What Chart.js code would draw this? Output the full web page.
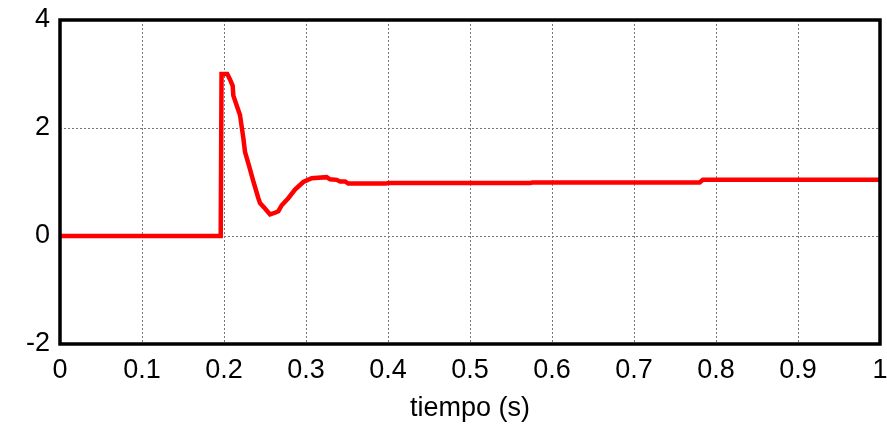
<!DOCTYPE html>
<html>
<head>
<meta charset="utf-8">
<script src="https://cdn.jsdelivr.net/npm/chart.js@4.4.0/dist/chart.umd.min.js"></script>
<style>
  html, body { margin: 0; padding: 0; background: #fff; }
  #wrap { width: 887px; height: 425px; }
</style>
</head>
<body>
<div id="wrap"><canvas id="myChart" width="887" height="425"></canvas></div>
<script>
// datos
var tiempo = [0, 0.196, 0.197, 0.204, 0.2073, 0.2106, 0.2114, 0.2154, 0.2195, 0.2236, 0.2256, 0.2309,
    0.2358, 0.2419, 0.2439, 0.2500, 0.2561, 0.2622, 0.2663, 0.2704, 0.2784, 0.2866, 0.2967, 0.3069,
    0.3252, 0.3293, 0.3374, 0.3415, 0.3476, 0.3516, 0.3964, 0.4008, 0.573, 0.576, 0.780, 0.784, 1.0];
var senal = [0, 0, 3.0, 3.0, 2.90, 2.78, 2.60, 2.42, 2.24, 1.81, 1.56, 1.28,
    1.01, 0.70, 0.61, 0.51, 0.40, 0.43, 0.46, 0.57, 0.70, 0.86, 1.00, 1.07,
    1.09, 1.05, 1.04, 1.01, 1.01, 0.97, 0.97, 0.98, 0.98, 0.99, 0.99, 1.04, 1.04];
var xTicks = [0, 0.1, 0.2, 0.3, 0.4, 0.5, 0.6, 0.7, 0.8, 0.9, 1];
var yTicks = [-2, 0, 2, 4];
var xTitle = 'tiempo (s)';

var puntos = tiempo.map(function (t, i) { return { x: t, y: senal[i] }; });

var frame = {
    id: 'frame',
    afterDraw: function (chart) {
        var a = chart.chartArea;
        var ctx = chart.ctx;
        ctx.save();
        ctx.strokeStyle = '#000';
        ctx.lineWidth = 3.5;
        ctx.strokeRect(a.left, a.top, a.right - a.left, a.bottom - a.top);
        ctx.restore();
    }
};

var font = { family: 'Liberation Sans, Arial, sans-serif', size: 27 };

var ctx = document.getElementById('myChart').getContext('2d');
var myChart = new Chart(ctx, {
    type: 'line',
    data: {
        datasets: [{
            data: puntos,
            borderColor: '#ff0000',
            borderWidth: 4.5,
            pointRadius: 0,
            tension: 0,
            fill: false
        }]
    },
    options: {
        responsive: false,
        animation: false,
        layout: { padding: { left: 0, right: 7, top: 20, bottom: 0 } },
        plugins: { legend: { display: false }, tooltip: { enabled: false } },
        scales: {
            x: {
                type: 'linear',
                min: 0,
                max: 1,
                afterBuildTicks: function (s) { s.ticks = xTicks.map(function (v) { return { value: v }; }); },
                afterFit: function (s) { s.height = 81; s.paddingLeft = 0; s.paddingRight = 0; },
                ticks: {
                    color: '#000',
                    font: font,
                    padding: 10,
                    maxRotation: 0,
                    callback: function (v) { return String(Math.round(v * 10) / 10); }
                },
                grid: { color: '#777', lineWidth: 1, drawTicks: false },
                border: { display: false, dash: [2, 2] },
                title: { display: true, text: xTitle, color: '#000', font: font, padding: { top: 0, bottom: 0 } }
            },
            y: {
                min: -2,
                max: 4,
                afterBuildTicks: function (s) { s.ticks = yTicks.map(function (v) { return { value: v }; }); },
                afterFit: function (s) { s.width = 60; s.paddingTop = 0; s.paddingBottom = 0; },
                ticks: { color: '#000', font: font, padding: 10 },
                grid: { color: '#777', lineWidth: 1, drawTicks: false },
                border: { display: false, dash: [2, 2] }
            }
        }
    },
    plugins: [frame]
});
</script>
</body>
</html>
